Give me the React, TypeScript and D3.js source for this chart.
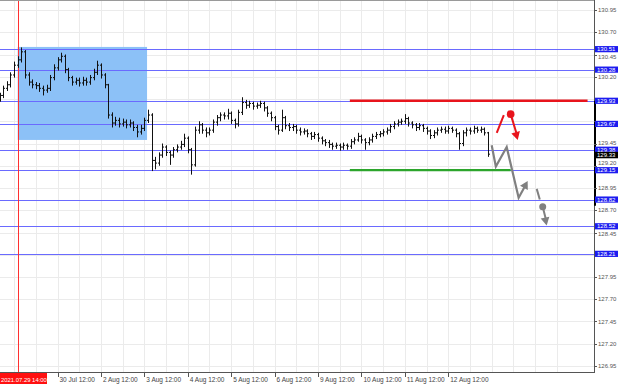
import React from "react";
import * as d3 from "d3";

const W = 620;
const H = 385;

// price axis
const priceTicks = [126.95, 127.2, 127.45, 127.7, 127.95, 128.2, 128.45, 128.7, 128.95, 129.2, 129.45, 129.7, 129.95, 130.2, 130.45, 130.7, 130.95];
const levelPrices = [130.51, 130.28, 129.93, 129.67, 129.38, 129.15, 128.82, 128.52, 128.21];
const currentPrice = 129.33;

// time axis (hours of trading, 0 = 2021.07.29 14:00)
const dateLabels = ["30 Jul 12:00", "2 Aug 12:00", "3 Aug 12:00", "4 Aug 12:00", "5 Aug 12:00", "6 Aug 12:00", "9 Aug 12:00", "10 Aug 12:00", "11 Aug 12:00", "12 Aug 12:00"];
const dateHours = [22, 46, 70, 94, 118, 142, 166, 190, 214, 238];
const markerLabel = "2021.07.29 14:00";
const markerHour = 0;
const firstBarHour = -10;
const barStepHours = 2;

// 2-hour bars
const closes = [
  129.99, 130.07, 130.11, 130.22, 130.33, 130.39, 130.48, 130.22, 130.14, 130.11,
  130.10, 130.07, 130.05, 130.07, 130.19, 130.30, 130.39, 130.43, 130.28, 130.19,
  130.14, 130.16, 130.13, 130.16, 130.14, 130.19, 130.25, 130.33, 130.22, 130.11,
  129.77, 129.68, 129.71, 129.67, 129.69, 129.66, 129.68, 129.63, 129.58, 129.62,
  129.71, 129.77, 129.26, 129.23, 129.32, 129.41, 129.35, 129.32, 129.38, 129.41,
  129.44, 129.51, 129.38, 129.21, 129.60, 129.66, 129.60, 129.57, 129.60, 129.69,
  129.74, 129.77, 129.76, 129.79, 129.71, 129.67, 129.80, 129.91, 129.88, 129.90,
  129.87, 129.88, 129.90, 129.85, 129.79, 129.74, 129.64, 129.60, 129.74, 129.65,
  129.63, 129.64, 129.60, 129.58, 129.59, 129.56, 129.53, 129.55, 129.51, 129.48,
  129.46, 129.44, 129.42, 129.43, 129.41, 129.43, 129.42, 129.47, 129.49, 129.53,
  129.49, 129.46, 129.49, 129.53, 129.55, 129.56, 129.58, 129.60, 129.64, 129.67,
  129.69, 129.70, 129.73, 129.68, 129.66, 129.63, 129.65, 129.62, 129.59, 129.54,
  129.57, 129.60, 129.61, 129.59, 129.62, 129.60, 129.56, 129.45, 129.57, 129.60,
  129.59, 129.62, 129.60, 129.61, 129.57, 129.33,
];
const opens = [
  129.95, 129.99, 130.07, 130.11, 130.22, 130.33, 130.39, 130.48, 130.22, 130.14,
  130.11, 130.10, 130.07, 130.05, 130.07, 130.19, 130.30, 130.39, 130.43, 130.28,
  130.19, 130.14, 130.16, 130.13, 130.16, 130.14, 130.19, 130.25, 130.33, 130.22,
  130.11, 129.77, 129.68, 129.71, 129.67, 129.69, 129.66, 129.68, 129.63, 129.58,
  129.62, 129.71, 129.77, 129.26, 129.23, 129.32, 129.41, 129.35, 129.32, 129.38,
  129.41, 129.44, 129.51, 129.38, 129.21, 129.60, 129.66, 129.60, 129.57, 129.60,
  129.69, 129.74, 129.77, 129.76, 129.79, 129.71, 129.67, 129.80, 129.91, 129.88,
  129.90, 129.87, 129.88, 129.90, 129.85, 129.79, 129.74, 129.64, 129.60, 129.74,
  129.65, 129.63, 129.64, 129.60, 129.58, 129.59, 129.56, 129.53, 129.55, 129.51,
  129.48, 129.46, 129.44, 129.42, 129.43, 129.41, 129.43, 129.42, 129.47, 129.49,
  129.53, 129.49, 129.46, 129.49, 129.53, 129.55, 129.56, 129.58, 129.60, 129.64,
  129.67, 129.69, 129.70, 129.73, 129.68, 129.66, 129.63, 129.65, 129.62, 129.59,
  129.54, 129.57, 129.60, 129.61, 129.59, 129.62, 129.60, 129.56, 129.45, 129.57,
  129.60, 129.59, 129.62, 129.60, 129.61, 129.57,
];
const highs = [
  130.02, 130.10, 130.15, 130.25, 130.37, 130.43, 130.53, 130.50, 130.25, 130.17,
  130.14, 130.13, 130.10, 130.11, 130.22, 130.34, 130.42, 130.47, 130.45, 130.30,
  130.21, 130.19, 130.19, 130.20, 130.19, 130.22, 130.29, 130.38, 130.35, 130.24,
  130.12, 129.80, 129.75, 129.74, 129.73, 129.72, 129.72, 129.70, 129.66, 129.66,
  129.74, 129.83, 129.79, 129.30, 129.35, 129.45, 129.43, 129.37, 129.41, 129.44,
  129.48, 129.56, 129.53, 129.40, 129.64, 129.70, 129.68, 129.63, 129.63, 129.72,
  129.77, 129.80, 129.80, 129.84, 129.81, 129.73, 129.83, 129.97, 129.94, 129.93,
  129.92, 129.91, 129.93, 129.92, 129.87, 129.81, 129.76, 129.66, 129.83, 129.76,
  129.68, 129.67, 129.66, 129.63, 129.62, 129.61, 129.58, 129.58, 129.57, 129.53,
  129.50, 129.49, 129.46, 129.46, 129.45, 129.46, 129.45, 129.50, 129.52, 129.57,
  129.55, 129.51, 129.52, 129.56, 129.58, 129.59, 129.61, 129.63, 129.67, 129.70,
  129.72, 129.73, 129.78, 129.75, 129.70, 129.68, 129.68, 129.67, 129.64, 129.61,
  129.60, 129.63, 129.64, 129.64, 129.65, 129.64, 129.62, 129.58, 129.60, 129.63,
  129.63, 129.65, 129.64, 129.64, 129.63, 129.58,
];
const lows = [
  129.92, 129.96, 130.04, 130.08, 130.19, 130.30, 130.36, 130.18, 130.10, 130.07,
  130.06, 130.03, 129.99, 130.02, 130.04, 130.16, 130.27, 130.36, 130.24, 130.15,
  130.10, 130.11, 130.09, 130.10, 130.10, 130.11, 130.16, 130.22, 130.18, 130.07,
  129.73, 129.63, 129.65, 129.63, 129.64, 129.62, 129.63, 129.59, 129.52, 129.55,
  129.59, 129.68, 129.14, 129.16, 129.20, 129.29, 129.31, 129.21, 129.29, 129.35,
  129.38, 129.41, 129.34, 129.10, 129.19, 129.56, 129.56, 129.52, 129.54, 129.57,
  129.65, 129.70, 129.72, 129.72, 129.67, 129.62, 129.64, 129.77, 129.84, 129.85,
  129.83, 129.84, 129.85, 129.81, 129.75, 129.70, 129.60, 129.55, 129.58, 129.61,
  129.59, 129.59, 129.56, 129.54, 129.55, 129.52, 129.49, 129.50, 129.47, 129.44,
  129.42, 129.40, 129.38, 129.39, 129.37, 129.38, 129.38, 129.39, 129.44, 129.47,
  129.45, 129.38, 129.43, 129.46, 129.50, 129.52, 129.53, 129.55, 129.57, 129.61,
  129.64, 129.66, 129.67, 129.64, 129.62, 129.59, 129.60, 129.58, 129.55, 129.50,
  129.51, 129.54, 129.57, 129.56, 129.56, 129.57, 129.52, 129.38, 129.42, 129.53,
  129.55, 129.56, 129.57, 129.57, 129.54, 129.30,
];

// annotations: [hour, price]
const zoneHours = [0, 71.5];
const zonePrices = [129.49, 130.535];
const resistanceHours = [183.6, 315];
const resistancePrice = 129.93;
const supportHours = [183.6, 272.5];
const supportPrice = 129.15;
const grayPath: [number, number][] = [[262, 129.43], [264.3, 129.19], [270.3, 129.41], [276.9, 128.84], [281.9, 129.03]];
const grayDash: [number, number][] = [[286.9, 128.94], [288.6, 128.82]];
const grayDot: [number, number] = [290.2, 128.74];
const grayArrow2: [number, number][] = [[290.2, 128.74], [292.4, 128.53]];
const redStroke: [number, number][] = [[264.8, 129.57], [268.7, 129.77]];
const redDot: [number, number] = [272.5, 129.78];
const redArrow: [number, number][] = [[272.5, 129.78], [276.4, 129.49]];

const PLOT_R = 594;
const PLOT_B = 372;
const x = d3.scaleLinear().domain([0, 22]).range([17.7, 57.5]);
const y = d3.scaleLinear().domain([126.95, 130.95]).range([366, 10]);

const FONT = "'Liberation Sans', Arial, sans-serif";

function arrowHead(p0: [number, number], p1: [number, number], size: number) {
  const [x0, y0] = [x(p0[0]), y(p0[1])];
  const [x1, y1] = [x(p1[0]), y(p1[1])];
  const a = Math.atan2(y1 - y0, x1 - x0);
  const w = size * 0.55;
  const bx = x1 - size * Math.cos(a);
  const by = y1 - size * Math.sin(a);
  const pts = [
    [x1, y1],
    [bx + w * Math.sin(a), by - w * Math.cos(a)],
    [bx - w * Math.sin(a), by + w * Math.cos(a)],
  ];
  return pts.map((p) => p.join(",")).join(" ");
}

export default function App() {
  const line = d3.line<[number, number]>().x((d) => x(d[0])).y((d) => y(d[1]));
  const gridHours = d3.range(-2, 300, 12);
  const gridTop = 1;
  // labels hidden behind a level box in the reference are not drawn
  const visibleTicks = priceTicks.filter((p) => !levelPrices.some((l) => Math.abs(l - p) < 0.045));
  // nudge labels sitting right next to a level box away from it
  const labelY = (p: number) => {
    let yy = y(p) + 2.2;
    levelPrices.forEach((l) => {
      const d = y(p) - y(l);
      if (Math.abs(d) < 7.5) yy += d > 0 ? 7.5 - d : -(7.5 + d) * 0.9;
    });
    return yy;
  };

  const bars = closes.map((c, k) => {
    const xc = Math.round(x(firstBarHour + barStepHours * k)) + 0.5;
    return (
      <g key={k} stroke="#111" strokeWidth={1}>
        <line x1={xc} x2={xc} y1={y(highs[k])} y2={y(lows[k])} />
        <line x1={xc - 1.5} x2={xc} y1={y(opens[k])} y2={y(opens[k])} />
        <line x1={xc} x2={xc + 1.5} y1={y(c)} y2={y(c)} />
      </g>
    );
  });

  const shaft = (p0: [number, number], p1: [number, number]) => line([p0, p1]) as string;
  const lastG = grayPath[grayPath.length - 1];

  return (
    <div style={{ position: "fixed", left: 0, top: 0, width: W, height: H, background: "#fff" }}>
      <svg width={W} height={H} style={{ display: "block", fontFamily: FONT }}>
        <rect x={0} y={0} width={W} height={H} fill="#fff" />
        {/* grid */}
        {gridHours.map((h) => (
          <line key={"vg" + h} x1={Math.round(x(h)) + 0.5} x2={Math.round(x(h)) + 0.5} y1={gridTop} y2={PLOT_B} stroke="#ebebeb" strokeWidth={1} />
        ))}
        {priceTicks.map((p) => (
          <line key={"hg" + p} x1={0} x2={PLOT_R} y1={Math.round(y(p)) + 0.5} y2={Math.round(y(p)) + 0.5} stroke="#ebebeb" strokeWidth={1} />
        ))}
        {/* zone */}
        <rect x={x(zoneHours[0])} y={y(zonePrices[1])} width={x(zoneHours[1]) - x(zoneHours[0])} height={y(zonePrices[0]) - y(zonePrices[1])} fill="#8cc1f7" />
        {/* level lines */}
        {levelPrices.map((p) => (
          <line key={"lv" + p} x1={0} x2={PLOT_R} y1={Math.round(y(p)) + 0.5} y2={Math.round(y(p)) + 0.5} stroke="#6a6aff" strokeWidth={1} />
        ))}
        {/* marker vertical line */}
        <line x1={Math.round(x(markerHour)) + 0.5} x2={Math.round(x(markerHour)) + 0.5} y1={gridTop} y2={PLOT_B} stroke="#ff3030" strokeWidth={1} />
        {/* bars */}
        {bars}
        {/* resistance / support */}
        <line x1={x(resistanceHours[0])} x2={x(resistanceHours[1])} y1={y(resistancePrice)} y2={y(resistancePrice)} stroke="#e8141c" strokeWidth={2.5} />
        <line x1={x(supportHours[0])} x2={x(supportHours[1])} y1={y(supportPrice)} y2={y(supportPrice)} stroke="#2ca52c" strokeWidth={2.2} />
        {/* gray scenario */}
        <path d={line(grayPath.slice(0, grayPath.length - 1).concat([[lastG[0] - 1.2, lastG[1] - 0.05]])) as string} fill="none" stroke="#808080" strokeWidth={2.2} strokeLinejoin="miter" />
        <polygon points={arrowHead(grayPath[grayPath.length - 2], lastG, 8)} fill="#808080" />
        <path d={line(grayDash) as string} fill="none" stroke="#808080" strokeWidth={2} />
        <circle cx={x(grayDot[0])} cy={y(grayDot[1])} r={3.5} fill="#808080" />
        <path d={shaft(grayArrow2[0], [grayArrow2[1][0] - 0.6, grayArrow2[1][1] + 0.08])} fill="none" stroke="#808080" strokeWidth={2} />
        <polygon points={arrowHead(grayArrow2[0], grayArrow2[1], 8)} fill="#808080" />
        {/* red scenario */}
        <path d={line(redStroke) as string} fill="none" stroke="#e8141c" strokeWidth={2} />
        <circle cx={x(redDot[0])} cy={y(redDot[1])} r={3.8} fill="#e8141c" />
        <path d={shaft(redArrow[0], [redArrow[1][0] - 0.8, redArrow[1][1] + 0.08])} fill="none" stroke="#e8141c" strokeWidth={2} />
        <polygon points={arrowHead(redArrow[0], redArrow[1], 8)} fill="#e8141c" />

        {/* frame */}
        <line x1={0} x2={PLOT_R} y1={0.5} y2={0.5} stroke="#9a9a9a" strokeWidth={1} />
        <line x1={PLOT_R + 0.5} x2={PLOT_R + 0.5} y1={0} y2={PLOT_B + 1} stroke="#555" strokeWidth={1} />
        <line x1={0} x2={PLOT_R + 1} y1={PLOT_B + 0.5} y2={PLOT_B + 0.5} stroke="#555" strokeWidth={1} />
        <line x1={PLOT_R + 1} x2={PLOT_R + 1} y1={y(resistancePrice)} y2={y(128.75)} stroke="#000" strokeWidth={2} />

        {/* price axis labels */}
        {priceTicks.map((p) => (
          <line key={"ptk" + p} x1={PLOT_R} x2={PLOT_R + 3} y1={Math.round(y(p)) + 0.5} y2={Math.round(y(p)) + 0.5} stroke="#555" />
        ))}
        {visibleTicks.map((p) => (
          <text key={"pt" + p} x={598} y={labelY(p)} fontSize={6} fill="#555">{p.toFixed(2)}</text>
        ))}
        {levelPrices.map((p) => (
          <g key={"pb" + p}>
            <rect x={595} y={y(p) - 3.1} width={23} height={6.2} fill="#1c1cf0" />
            <text x={597} y={y(p) + 2.1} fontSize={6} fill="#fff">{p.toFixed(2)}</text>
          </g>
        ))}
        <rect x={595} y={y(currentPrice) - 2.3} width={23} height={6.4} fill="#000" />
        <text x={597} y={y(currentPrice) + 3} fontSize={6} fill="#fff">{currentPrice.toFixed(2)}</text>

        {/* time axis labels */}
        {dateLabels.map((lab, i) => (
          <g key={"dl" + i}>
            <line x1={Math.round(x(dateHours[i])) + 0.5} x2={Math.round(x(dateHours[i])) + 0.5} y1={PLOT_B} y2={PLOT_B + 5} stroke="#555" />
            <text x={x(dateHours[i]) + 2} y={381.5} fontSize={6.5} fill="#444">{lab}</text>
          </g>
        ))}
        <rect x={0} y={PLOT_B + 1} width={47} height={11} fill="#ff1010" />
        <text x={1} y={381.5} fontSize={5.9} fill="#fff">{markerLabel}</text>
      </svg>
    </div>
  );
}
